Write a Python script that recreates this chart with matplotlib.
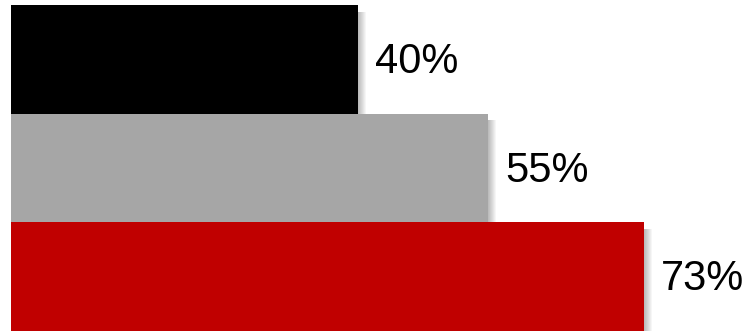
import matplotlib
matplotlib.use("Agg")
import matplotlib.pyplot as plt

labels = ["A", "B", "C"]
values = [40, 55, 73]
colors = ["#000000", "#a6a6a6", "#c00000"]

plt.rcParams['font.family'] = ['Liberation Sans', 'DejaVu Sans']

fig = plt.figure(figsize=(7.49, 3.31), dpi=100)
ax = fig.add_axes([0, 0, 1, 1])

pos = list(range(len(values)))
px = 1 / 8.67  # one pixel in data units along x

# soft shadow on the right edge
for y, v in zip(pos, values):
    for i in range(1, 9):
        ax.barh(y + 0.03, v + i * px, height=0.94, color="black",
                alpha=0.035, linewidth=0, zorder=1)

ax.barh(pos, values, height=1.0, color=colors, linewidth=0, zorder=2)

for y, v in zip(pos, values):
    ax.text(v + 2.0, y + 0.025, f"{v}%", va="center", ha="left", fontsize=30,
            color="black", zorder=3)

ax.set_xlim(-11 * px, 738 * px)
ax.set_ylim(2.5, -0.546)
ax.axis("off")

fig.savefig("out.png", dpi=100)
